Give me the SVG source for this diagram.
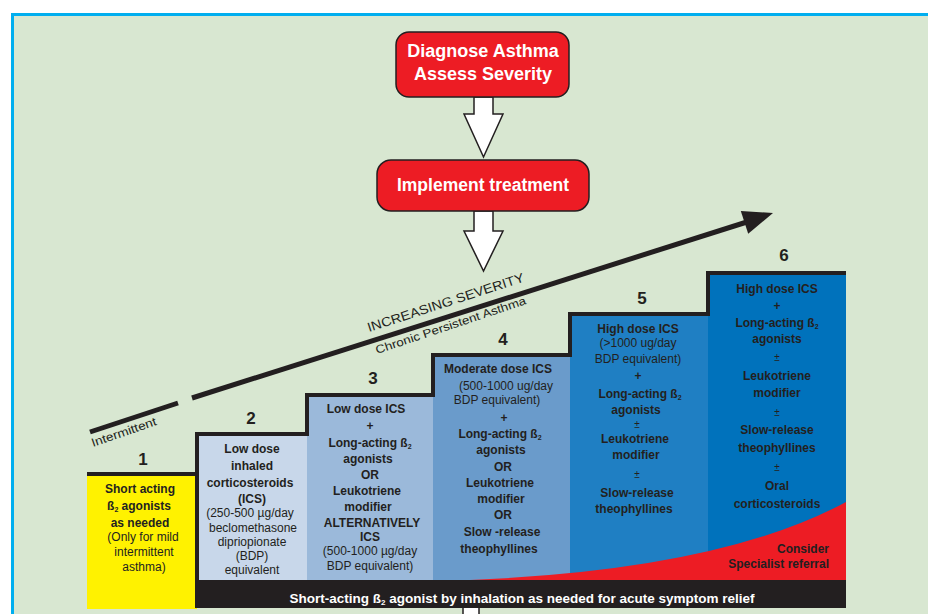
<svg xmlns="http://www.w3.org/2000/svg" width="928" height="614" viewBox="0 0 928 614">
<style>
text{font-family:"Liberation Sans",Arial,sans-serif;fill:#231f20}
.b{font-weight:bold;font-size:12px;text-anchor:middle}
.r{font-size:12px;text-anchor:middle}
.pm{font-size:10px;text-anchor:middle}
.num{font-weight:bold;font-size:17px;text-anchor:middle}
.w{fill:#ffffff;font-weight:bold;text-anchor:middle}
.box{fill:#ed1c24;stroke:#231f20;stroke-width:1.5}
.blk{fill:#ffffff;stroke:#231f20;stroke-width:1.5;stroke-linejoin:miter}
</style>
<rect x="0" y="0" width="928" height="614" fill="#ffffff"/>
<g id="frame">
<rect x="12.5" y="14.5" width="930" height="620" fill="#d8e7d1" stroke="#00aeef" stroke-width="3"/>
</g>

<g id="connectors">
<polygon class="blk" points="474,97 493,97 493,114 503,114 483.5,157 464,114 474,114"/>
<polygon class="blk" points="474,211 493,211 493,231 503,231 483.5,271 464,231 474,231"/>
<rect class="blk" x="463" y="604" width="16" height="14"/>
<line x1="90" y1="432" x2="178" y2="403" stroke="#231f20" stroke-width="5"/>
<line x1="192" y1="398" x2="750" y2="221" stroke="#231f20" stroke-width="5"/>
<polygon points="773,213 740.8,210.9 748.2,233.7" fill="#231f20"/>
</g>

<g id="severity-labels">
<text transform="rotate(-18 369 332)" x="369" y="332" font-size="13" textLength="164" lengthAdjust="spacingAndGlyphs">INCREASING SEVERITY</text>
<text transform="rotate(-18.5 377 354)" x="377" y="354" font-size="11.5" textLength="158" lengthAdjust="spacingAndGlyphs">Chronic Persistent Asthma</text>
<text transform="rotate(-19 93 447)" x="93" y="447" font-size="12" textLength="68" lengthAdjust="spacingAndGlyphs">Intermittent</text>
</g>

<g id="node-diagnose">
<rect class="box" x="396" y="32" width="173" height="65" rx="13"/>
<text class="w" x="483" y="57" font-size="18">Diagnose Asthma</text>
<text class="w" x="483" y="80" font-size="18">Assess Severity</text>
</g>

<g id="node-implement">
<rect class="box" x="377" y="160" width="212" height="51" rx="14"/>
<text class="w" x="483" y="191" font-size="17.5">Implement treatment</text>
</g>

<g id="step-fills">
<rect x="87" y="474" width="110" height="135" fill="#fff200"/>
<rect x="197" y="434" width="110" height="146" fill="#c8d7ea"/>
<rect x="307" y="395" width="126" height="185" fill="#9bb9da"/>
<rect x="433" y="355" width="137" height="225" fill="#6a9bcb"/>
<rect x="570" y="314" width="138" height="266" fill="#1f7fc3"/>
<rect x="708" y="273" width="138" height="307" fill="#0072bc"/>
<path d="M470,580 Q720,570 846,502 L846,580 Z" fill="#ed1c24"/>
<rect x="197" y="580" width="649" height="28" fill="#231f20"/>
<polyline points="87,474 197,474 197,434 307,434 307,395 433,395 433,355 570,355 570,314 708,314 708,273 846,273" fill="none" stroke="#231f20" stroke-width="4"/>
<line x1="197" y1="472" x2="197" y2="608" stroke="#231f20" stroke-width="4"/>
</g>

<g id="step1">
<text class="num" x="143" y="465">1</text>
<text class="b" x="140" y="493">Short acting</text>
<text class="b" x="139" y="510">ß<tspan font-size="7" dy="2">2</tspan><tspan dy="-2"> agonists</tspan></text>
<text class="b" x="140" y="527">as needed</text>
<text class="r" x="143" y="541">(Only for mild</text>
<text class="r" x="144" y="556">intermittent</text>
<text class="r" x="144" y="571">asthma)</text>
</g>

<g id="step2">
<text class="num" x="251" y="424">2</text>
<text class="b" x="252" y="453">Low dose</text>
<text class="b" x="252" y="470">inhaled</text>
<text class="b" x="250" y="487">corticosteroids</text>
<text class="b" x="252" y="503">(ICS)</text>
<text class="r" x="250" y="517">(250-500 µg/day</text>
<text class="r" x="253" y="532">beclomethasone</text>
<text class="r" x="252" y="546">dipriopionate</text>
<text class="r" x="252" y="560">(BDP)</text>
<text class="r" x="252" y="574">equivalent</text>
</g>

<g id="step3">
<text class="num" x="373" y="384">3</text>
<text class="b" x="366" y="413">Low dose ICS</text>
<text class="b" x="370" y="430">+</text>
<text class="b" x="370" y="447">Long-acting ß<tspan font-size="7" dy="2">2</tspan></text>
<text class="b" x="368" y="463">agonists</text>
<text class="b" x="370" y="479">OR</text>
<text class="b" x="367" y="495">Leukotriene</text>
<text class="b" x="368" y="511">modifier</text>
<text class="b" x="372" y="527">ALTERNATIVELY</text>
<text class="b" x="370" y="541">ICS</text>
<text class="r" x="370" y="555">(500-1000 µg/day</text>
<text class="r" x="370" y="570">BDP equivalent)</text>
</g>

<g id="step4">
<text class="num" x="503" y="345">4</text>
<text class="b" x="498" y="373">Moderate dose ICS</text>
<text class="r" x="506" y="390">(500-1000 ug/day</text>
<text class="r" x="497" y="404">BDP equivalent)</text>
<text class="b" x="504" y="422">+</text>
<text class="b" x="500" y="438">Long-acting ß<tspan font-size="7" dy="2">2</tspan></text>
<text class="b" x="501" y="454">agonists</text>
<text class="b" x="503" y="471">OR</text>
<text class="b" x="500" y="487">Leukotriene</text>
<text class="b" x="501" y="503">modifier</text>
<text class="b" x="503" y="519">OR</text>
<text class="b" x="502" y="536">Slow -release</text>
<text class="b" x="499" y="553">theophyllines</text>
</g>

<g id="step5">
<text class="num" x="642" y="304">5</text>
<text class="b" x="638" y="333">High dose ICS</text>
<text class="r" x="638" y="347">(&gt;1000 ug/day</text>
<text class="r" x="638" y="363">BDP equivalent)</text>
<text class="b" x="638" y="380">+</text>
<text class="b" x="640" y="398">Long-acting ß<tspan font-size="7" dy="2">2</tspan></text>
<text class="b" x="636" y="414">agonists</text>
<text class="pm" x="637" y="428">±</text>
<text class="b" x="635" y="443">Leukotriene</text>
<text class="b" x="636" y="459">modifier</text>
<text class="pm" x="637" y="478">±</text>
<text class="b" x="637" y="497">Slow-release</text>
<text class="b" x="634" y="513">theophyllines</text>
</g>

<g id="step6">
<text class="num" x="784" y="261">6</text>
<text class="b" x="777" y="293">High dose ICS</text>
<text class="b" x="777" y="310">+</text>
<text class="b" x="777" y="327">Long-acting ß<tspan font-size="7" dy="2">2</tspan></text>
<text class="b" x="777" y="343">agonists</text>
<text class="pm" x="777" y="361">±</text>
<text class="b" x="777" y="380">Leukotriene</text>
<text class="b" x="777" y="397">modifier</text>
<text class="pm" x="777" y="416">±</text>
<text class="b" x="777" y="434">Slow-release</text>
<text class="b" x="777" y="452">theophyllines</text>
<text class="pm" x="777" y="471">±</text>
<text class="b" x="777" y="490">Oral</text>
<text class="b" x="777" y="508">corticosteroids</text>
<text class="b" x="829" y="553" style="text-anchor:end">Consider</text>
<text class="b" x="829" y="568" style="text-anchor:end">Specialist referral</text>
</g>

<g id="relief-bar">
<text class="w" x="522" y="603" font-size="13.5">Short-acting ß<tspan font-size="8" dy="2">2</tspan><tspan dy="-2"> agonist by inhalation as needed for acute symptom relief</tspan></text>
</g>
</svg>
